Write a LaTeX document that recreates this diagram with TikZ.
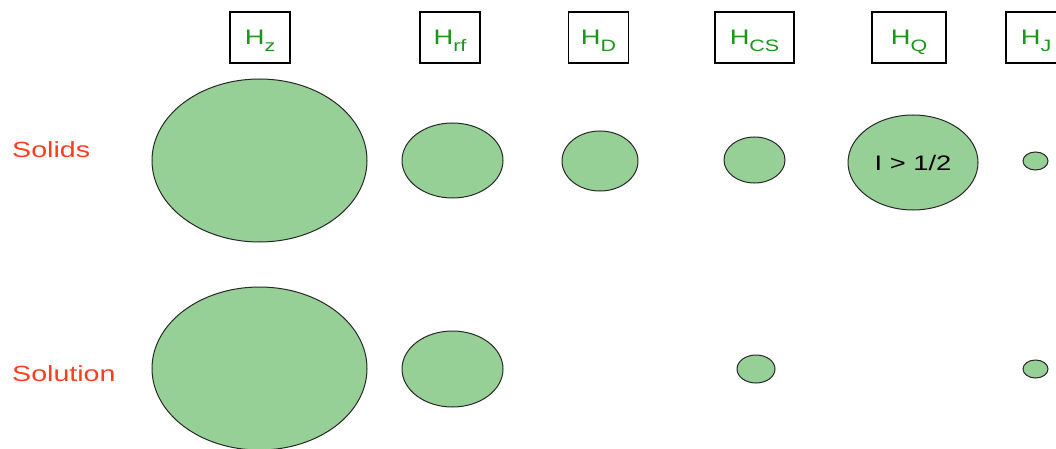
\documentclass[tikz,border=0pt]{standalone}
\usepackage{fontspec}
\usepackage{graphicx}
\setmainfont{Liberation Sans}
\usetikzlibrary{shapes.geometric}
\definecolor{fillgreen}{RGB}{151,208,151}
\definecolor{textgreen}{RGB}{26,150,26}
\definecolor{labelred}{RGB}{255,62,32}
\definecolor{edgegray}{RGB}{40,40,40}
\newcommand{\sxx}[1]{\scalebox{1.3}[1]{#1}}
\newcommand{\hsub}[1]{\sxx{\fontsize{21}{21}\selectfont H\raisebox{-7pt}{\fontsize{16.5}{16.5}\selectfont #1}}}
\tikzset{
  hbox/.style={draw=black, line width=1.5pt, minimum width=60pt, minimum height=51pt,
    inner sep=0pt, text height=15pt, text depth=0pt, text=textgreen},
  blob/.style={ellipse, draw=edgegray, line width=1pt, fill=fillgreen, inner sep=0pt},
  rowlabel/.style={anchor=west, inner sep=0pt, text=labelred},
}
\begin{document}
\begin{tikzpicture}[x=1pt, y=-1pt]
\useasboundingbox (0,0) rectangle (1056,449);
% header boxes
\node[hbox] (bz)  at (260,37.5) {\hsub{z}};
\node[hbox] (brf) at (450,37.5) {\hsub{rf}};
\node[hbox] (bd)  at (598.5,37.5) {\hsub{D}};
\node[hbox, minimum width=79pt] (bcs) at (754.5,37.5) {\hsub{CS}};
\node[hbox, minimum width=74pt] (bq)  at (909,37.5) {\hsub{Q}};
\node[hbox] (bj)  at (1036,37.5) {\hsub{J}};
% row labels
\node[rowlabel] (solids) at (12,150) {\sxx{\fontsize{22}{22}\selectfont Solids}};
\node[rowlabel] (solution) at (12,374) {\sxx{\fontsize{22}{22}\selectfont Solution}};
% solids row
\node[blob, minimum width=215pt, minimum height=163pt] (sz)  at (259.5,160.5) {};
\node[blob, minimum width=101pt, minimum height=75pt]  (srf) at (452.5,160.5) {};
\node[blob, minimum width=76pt,  minimum height=60pt]  (sd)  at (600,161) {};
\node[blob, minimum width=61pt,  minimum height=46pt]  (scs) at (754.5,160) {};
\node[blob, minimum width=130pt, minimum height=95pt]  (sq)  at (913,162.5) {\sxx{\fontsize{21}{21}\selectfont I > 1/2}};
\node[blob, minimum width=25pt,  minimum height=18pt]  (sj)  at (1035.5,161) {};
% solution row
\node[blob, minimum width=215pt, minimum height=163pt] (lz)  at (259.5,368.5) {};
\node[blob, minimum width=101pt, minimum height=76pt]  (lrf) at (452.5,369) {};
\node[blob, minimum width=38pt,  minimum height=28pt]  (lcs) at (756,369) {};
\node[blob, minimum width=25pt,  minimum height=18pt]  (lj)  at (1035.5,369) {};
\end{tikzpicture}
\end{document}
